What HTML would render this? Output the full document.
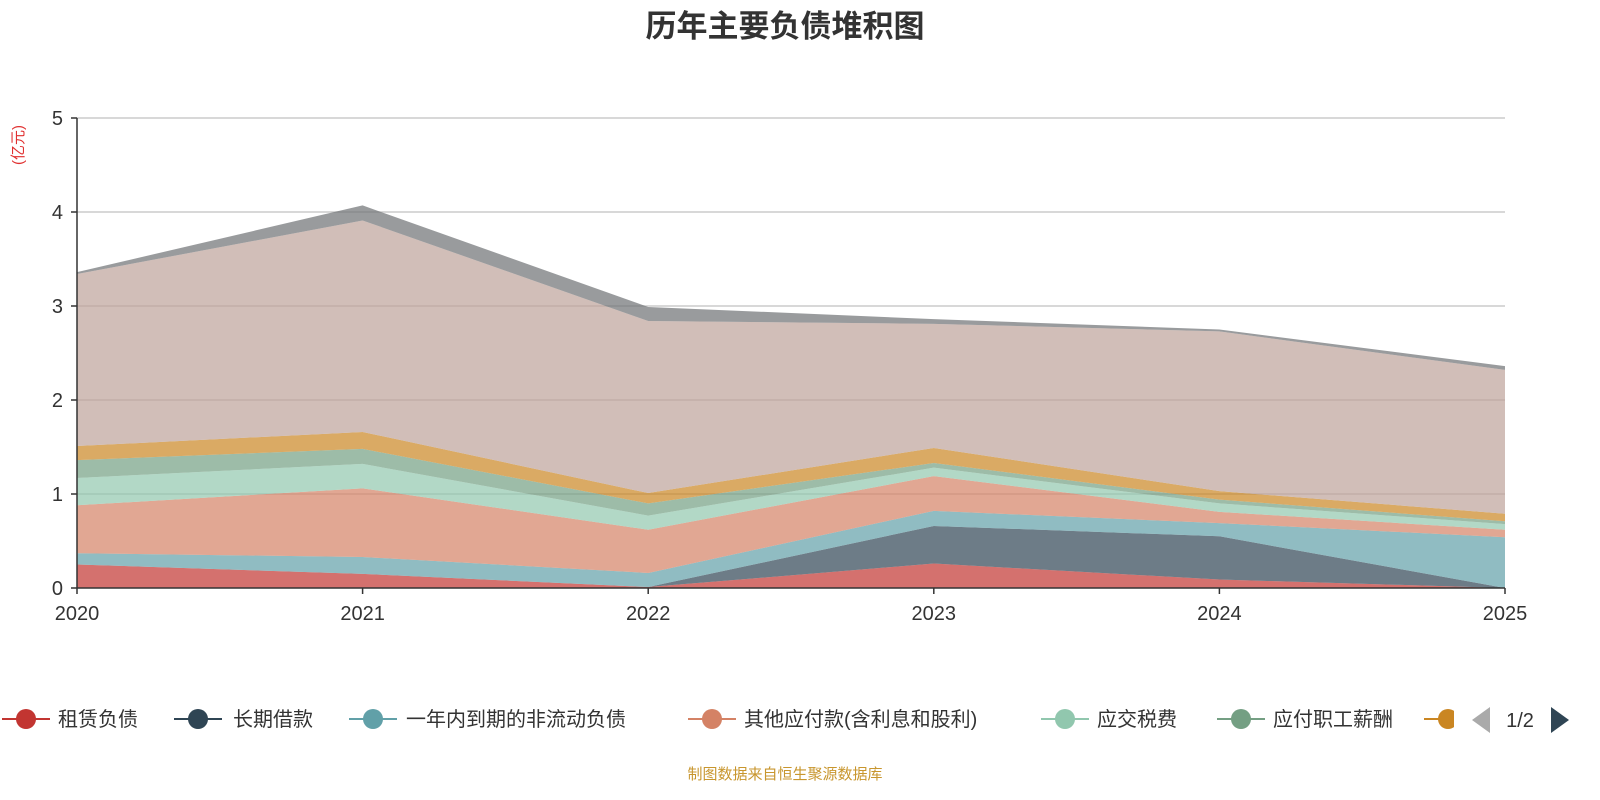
<!DOCTYPE html>
<html><head><meta charset="utf-8"><style>
body{margin:0;background:#fff;font-family:"Liberation Sans","Noto Sans CJK SC",sans-serif;}
#wrap{position:relative;width:1600px;height:800px;overflow:hidden;}
</style></head><body>
<div id="wrap">
<svg id="svg" width="1600" height="800" xmlns="http://www.w3.org/2000/svg">
<text x="785" y="37" text-anchor="middle" font-size="31" font-weight="bold" fill="#333" font-family="Liberation Sans,Noto Sans CJK SC,sans-serif">历年主要负债堆积图</text>
<text transform="translate(23,145) rotate(-90)" text-anchor="middle" font-size="15" fill="#e03030" font-family="Liberation Sans,Noto Sans CJK SC,sans-serif">(亿元)</text>
<g id="grid"></g><g id="areas"></g><g id="axes"></g><g id="legend"></g>
<text x="785" y="779" text-anchor="middle" font-size="15" fill="#c8962e" font-family="Liberation Sans,Noto Sans CJK SC,sans-serif">制图数据来自恒生聚源数据库</text>
</svg>
</div>
<script>
const years=["2020","2021","2022","2023","2024","2025"];
const yTicks=[0,1,2,3,4,5];
const seriesNames=["租赁负债","长期借款","一年内到期的非流动负债","其他应付款(含利息和股利)","应交税费","应付职工薪酬","合同负债","应付账款","短期借款"];
const s0=[0.25,0.15,0.01,0.26,0.09,0.00];
const s1=[0.00,0.00,0.00,0.40,0.46,0.00];
const s2=[0.12,0.18,0.15,0.16,0.14,0.54];
const s3=[0.51,0.73,0.46,0.37,0.12,0.08];
const s4=[0.29,0.26,0.15,0.09,0.09,0.06];
const s5=[0.19,0.16,0.13,0.05,0.04,0.03];
const s6=[0.15,0.18,0.11,0.16,0.09,0.08];
const s7=[1.83,2.25,1.83,1.32,1.70,1.53];
const s8=[0.02,0.16,0.15,0.05,0.02,0.04];
const series=[s0,s1,s2,s3,s4,s5,s6,s7,s8];
const colors=["#c23531","#2f4554","#61a0a8","#d48265","#91c7ae","#749f83","#ca8622","#bda29a","#6e7074"];
const NS="http://www.w3.org/2000/svg";
const X0=77,X1=1505,Y0=588,Y1=118,YMAX=5;
const xs=i=>X0+(X1-X0)*i/(years.length-1);
const ys=v=>Y0-(Y0-Y1)*v/YMAX;
function mk(tag,attrs,parent){const e=document.createElementNS(NS,tag);for(const k in attrs)e.setAttribute(k,attrs[k]);parent.appendChild(e);return e;}
const grid=document.getElementById('grid'),axes=document.getElementById('axes'),areas=document.getElementById('areas'),leg=document.getElementById('legend');
yTicks.forEach(t=>{
  if(t>0){const l=mk('line',{x1:X0,x2:X1,y1:ys(t),y2:ys(t),stroke:'#ccc','stroke-width':1.5},grid);
  
  }
  const tk=mk('line',{x1:X0-6,x2:X0,y1:ys(t),y2:ys(t),stroke:'#333','stroke-width':1.5},axes);
  
  
  const tx=mk('text',{x:X0-14,y:ys(t)+7,'text-anchor':'end','font-size':20,fill:'#333'},axes);tx.textContent=t;
  
  
});
let base=years.map(()=>0);
series.forEach((s,k)=>{
  const top=base.map((b,i)=>b+s[i]);
  let d='M'+years.map((_,i)=>xs(i)+','+ys(top[i])).join(' L');
  for(let i=years.length-1;i>=0;i--)d+=' L'+xs(i)+','+ys(base[i]);
  const p=mk('path',{d:d+'Z',fill:colors[k],'fill-opacity':0.7},areas);
  
  
  base=top;
});
const ya=mk('line',{x1:X0,x2:X0,y1:Y1,y2:Y0,stroke:'#333','stroke-width':1.5},axes);


const xa=mk('line',{x1:X0,x2:X1,y1:Y0,y2:Y0,stroke:'#333','stroke-width':1.5},axes);


years.forEach((y,i)=>{
  const tk=mk('line',{x1:xs(i),x2:xs(i),y1:Y0,y2:Y0+6,stroke:'#333','stroke-width':1.5},axes);
  
  
  const tx=mk('text',{x:xs(i),y:Y0+32,'text-anchor':'middle','font-size':20,fill:'#333'},axes);tx.textContent=y;
  
  
});
const legIcon=[26,198,373,712,1065,1241,1448];
const legText=[58,233,406,744,1097,1273];
for(let k=0;k<7;k++){
  const g=mk('g',{},leg);
  
  
  mk('line',{x1:legIcon[k]-24,x2:legIcon[k]+24,y1:719,y2:719,stroke:colors[k],'stroke-width':2},g);
  mk('circle',{cx:legIcon[k],cy:719,r:10,fill:colors[k]},g);
  if(k<6){const t=mk('text',{x:legText[k],y:726,'font-size':20,fill:'#333'},g);t.textContent=seriesNames[k];}
}
mk('rect',{x:1454,y:700,width:146,height:40,fill:'#fff'},leg);
const pl=mk('path',{d:'M1490,707 L1490,733 L1472,720Z',fill:'#aaa'},leg);


const pt=mk('text',{x:1520,y:727,'text-anchor':'middle','font-size':20,fill:'#333'},leg);pt.textContent='1/2';


const pr=mk('path',{d:'M1551,707 L1551,733 L1569,720Z',fill:'#2f4554'},leg);


</script>
</body></html>
